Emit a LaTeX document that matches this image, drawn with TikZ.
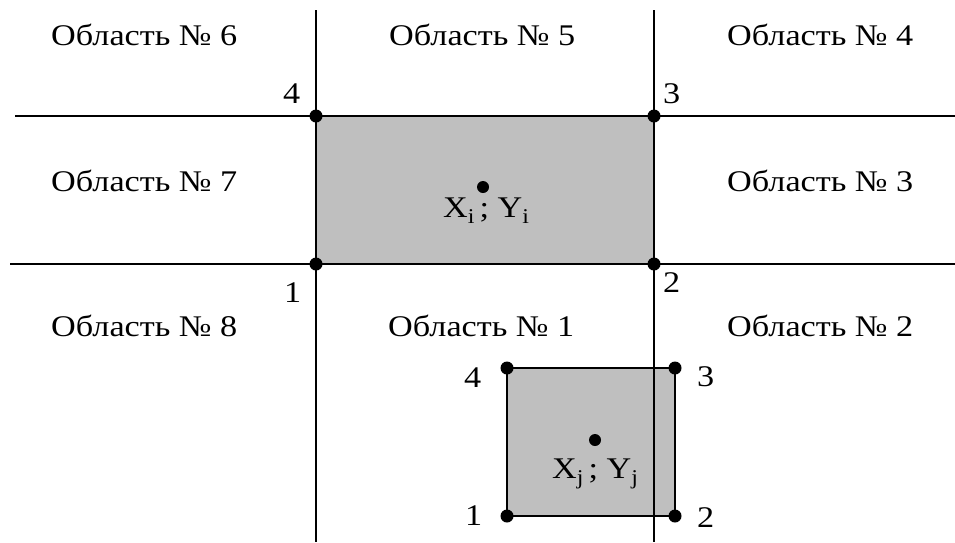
\documentclass[tikz,border=0pt]{standalone}
\usepackage{fontspec}
\setmainfont{Liberation Serif}[FakeStretch=1.14]
\newcommand{\mysub}[1]{\raisebox{-6pt}{\fontsize{21}{22}\selectfont #1}}
\tikzset{
  lbl/.style={font=\fontsize{30}{34}\selectfont, inner sep=0pt, anchor=base west},
  num/.style={font=\fontsize{30}{34}\selectfont, inner sep=0pt, anchor=base west},
  grid/.style={line width=1.5pt, black},
  box/.style={fill=black!25, draw=black, line width=1.5pt},
  dot/.style={circle, fill=black, inner sep=0pt, minimum size=13pt},
  cdot/.style={circle, fill=black, inner sep=0pt, minimum size=12pt}
}
\begin{document}
\begin{tikzpicture}[x=1pt,y=-1pt]
\useasboundingbox (0,0) rectangle (955,542);
% grid lines
\coordinate (vl1t) at (316,10);  \coordinate (vl1b) at (316,542);
\coordinate (vl2t) at (654,10);  \coordinate (vl2b) at (654,542);
\coordinate (hl1l) at (15,116);  \coordinate (hl1r) at (955,116);
\coordinate (hl2l) at (10,264);  \coordinate (hl2r) at (955,264);
% rectangle i
\coordinate (i1) at (316,264); \coordinate (i2) at (654,264);
\coordinate (i3) at (654,116); \coordinate (i4) at (316,116);
\fill[black!25] (i1) rectangle (i3);
% rectangle j
\coordinate (j1) at (507,516); \coordinate (j2) at (675,516);
\coordinate (j3) at (675,368); \coordinate (j4) at (507,368);
\draw[box] (j1) rectangle (j3);
\draw[grid] (vl1t) -- (vl1b);
\draw[grid] (vl2t) -- (vl2b);
\draw[grid] (hl1l) -- (hl1r);
\draw[grid] (hl2l) -- (hl2r);
\draw[line width=2.4pt] (i4) -- (i3);
% corner dots
\foreach \p in {i1,i2,i3,i4,j1,j2,j3,j4} \node[dot] (d\p) at (\p) {};
% centre dots
\node[cdot] (ci) at (483,187) {};
\node[cdot] (cj) at (595,440) {};
\node[lbl] (ti) at (443,217) {X\mysub{i}\,; Y\mysub{i}};
\node[lbl] (tj) at (552,478) {X\mysub{j}\,; Y\mysub{j}};
% corner numbers
\node[num] (ni4) at (283,103) {4};
\node[num] (ni3) at (663,103) {3};
\node[num] (ni1) at (284,302) {1};
\node[num] (ni2) at (663,292) {2};
\node[num] (nj4) at (464,387) {4};
\node[num] (nj3) at (697,386) {3};
\node[num] (nj1) at (465,525) {1};
\node[num] (nj2) at (697,527) {2};
% region labels
\node[lbl] (r6) at (51,45) {Область № 6};
\node[lbl] (r5) at (389,45) {Область № 5};
\node[lbl] (r4) at (727,45) {Область № 4};
\node[lbl] (r7) at (51,191) {Область № 7};
\node[lbl] (r3) at (727,191) {Область № 3};
\node[lbl] (r8) at (51,336) {Область № 8};
\node[lbl] (r1) at (388,336) {Область № 1};
\node[lbl] (r2) at (727,336) {Область № 2};
\end{tikzpicture}
\end{document}
